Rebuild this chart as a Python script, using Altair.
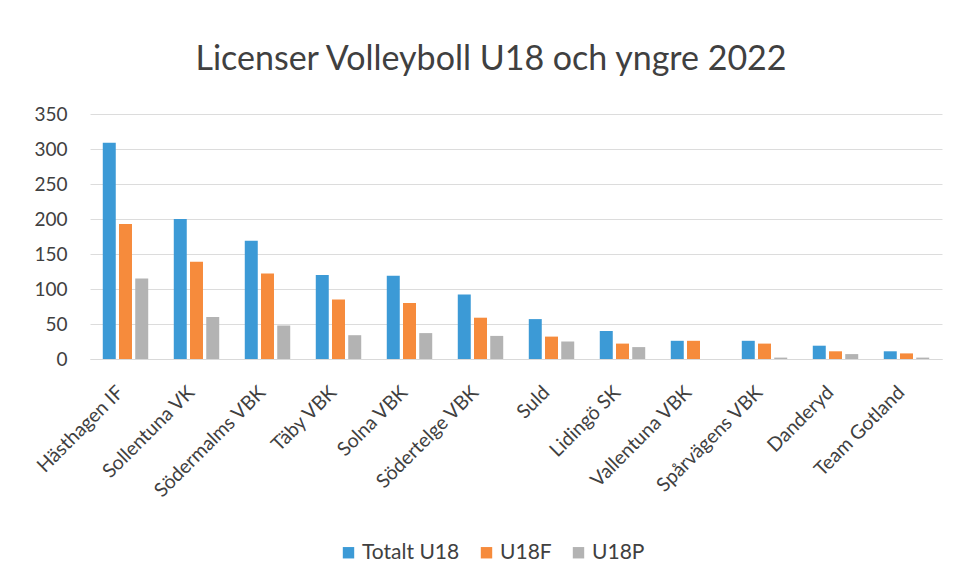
import altair as alt
import pandas as pd

clubs = ["Hästhagen IF", "Sollentuna VK", "Södermalms VBK", "Täby VBK", "Solna VBK",
         "Södertelge VBK", "Suld", "Lidingö SK", "Vallentuna VBK", "Spårvägens VBK",
         "Danderyd", "Team Gotland"]
series = ["Totalt U18", "U18F", "U18P"]
totalt_u18 = [309, 200, 169, 120, 119, 92, 57, 40, 26, 26, 19, 11]
u18f = [193, 139, 122, 85, 80, 59, 32, 22, 26, 22, 11, 8]
u18p = [115, 60, 48, 34, 37, 33, 25, 17, 0, 2, 7, 2]
colors = ["#3C9AD6", "#F68B3C", "#B3B3B3"]

rows = []
for vals, s in zip([totalt_u18, u18f, u18p], series):
    for c, v in zip(clubs, vals):
        rows.append({"Klubb": c, "Serie": s, "Antal": v})
df = pd.DataFrame(rows)

font = "Lato"
txt = "#404040"

chart = alt.Chart(df).mark_bar().encode(
    x=alt.X("Klubb:N", sort=clubs, title=None,
            scale=alt.Scale(paddingInner=0.36, paddingOuter=0.18),
            axis=alt.Axis(labelAngle=-45, labelAlign="right", labelBaseline="middle",
                          labelFontSize=19.5, labelColor=txt, labelFont=font,
                          ticks=False, domain=True, domainColor="#d9d9d9",
                          labelPadding=30, labelOffset=-5)),
    xOffset=alt.XOffset("Serie:N", sort=series, scale=alt.Scale(paddingInner=0.2)),
    y=alt.Y("Antal:Q", title=None,
            scale=alt.Scale(domain=[0, 350]),
            axis=alt.Axis(values=list(range(0, 351, 50)), labelFontSize=19,
                          labelColor=txt, labelFont=font, ticks=False, domain=False,
                          gridColor="#dcdcdc", labelPadding=23)),
    color=alt.Color("Serie:N", sort=series,
                    scale=alt.Scale(domain=series, range=colors),
                    legend=alt.Legend(title=None, orient="none", direction="horizontal",
                                      legendX=248, legendY=428, symbolType="square",
                                      symbolSize=130, symbolStrokeWidth=0,
                                      labelFontSize=21, labelColor=txt, labelFont=font,
                                      columnPadding=16, labelOffset=3)),
).properties(
    width=852, height=245,
    title=alt.TitleParams("Licenser Volleyboll U18 och yngre 2022", fontSize=34,
                          font=font, color=txt, fontWeight="normal", anchor="middle",
                          offset=28, dx=-25),
    padding={"left": 82, "top": 106, "right": 6, "bottom": 220},
    autosize=alt.AutoSizeParams(type="none"),
    background="white",
).configure_view(stroke=None, strokeWidth=0)

chart.save("out.html", embed_options={"renderer": "svg", "actions": False})
